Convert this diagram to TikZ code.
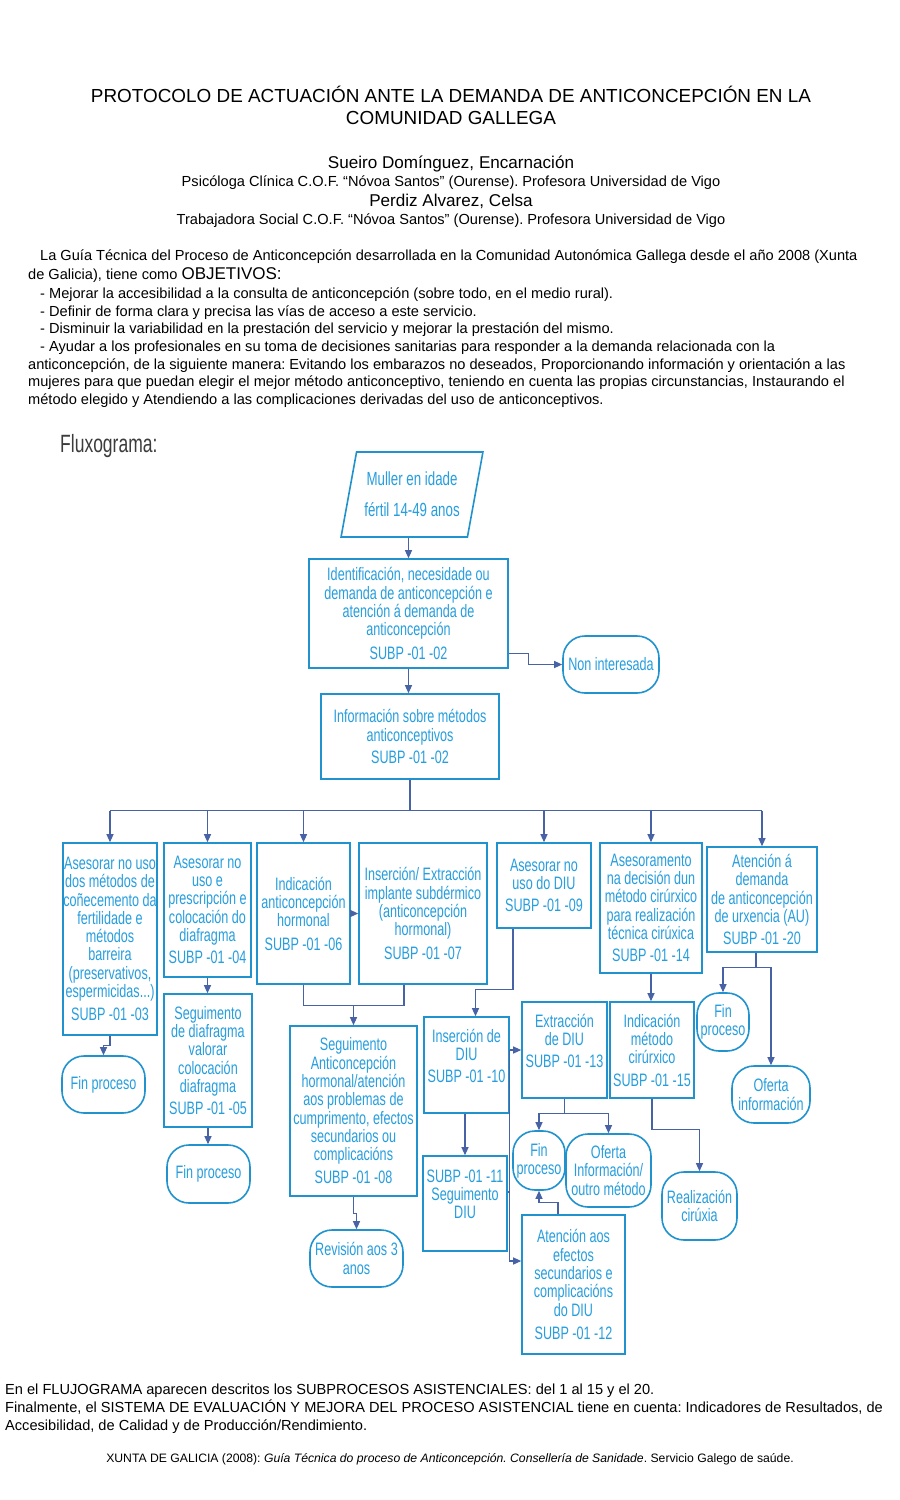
\documentclass[tikz,border=0pt]{standalone}
\usepackage{fontspec}
\setmainfont{Liberation Sans}
\newfontfamily\narrowfont[FakeStretch=0.70]{Liberation Sans}
\usetikzlibrary{arrows.meta,shapes.geometric}
\definecolor{flowtext}{RGB}{38,158,222}
\definecolor{flowline}{RGB}{32,146,206}
\definecolor{flowarrow}{RGB}{72,98,166}
\definecolor{fluxgray}{RGB}{60,60,60}
\frenchspacing

\begin{document}
\begin{tikzpicture}[
        x=1pt, y=-1pt,
        box/.style={
          draw=flowline,
          line width=1.6pt,
          text=flowtext,
          align=center,
          inner xsep=0.5pt, inner ysep=1pt,
          font=\narrowfont\fontsize{18}{18.3}\selectfont
        },
        endbox/.style={box, rounded corners=22pt},
        link/.style={draw=flowarrow, line width=1.1pt, -{Triangle[width=7pt,length=8pt]}},
        wire/.style={draw=flowarrow, line width=1.1pt},
        titleline/.style={font=\fontsize{18.9}{20}\selectfont, anchor=base, inner sep=0pt},
        authorname/.style={font=\fontsize{17.1}{18}\selectfont, anchor=base, inner sep=0pt},
        affil/.style={font=\fontsize{14.6}{15}\selectfont, anchor=base, inner sep=0pt},
        bodyline/.style={font=\fontsize{14.6}{16}\selectfont, anchor=base west, inner sep=0pt}
      ]
      \fill[white] (0,0) rectangle (900,1500);
      \useasboundingbox (0,0) rectangle (900,1500);

      % header
      \node[titleline] (title1) at (451,102)
        {PROTOCOLO DE ACTUACIÓN ANTE LA DEMANDA DE ANTICONCEPCIÓN EN LA};
      \node[titleline] (title2) at (451,124) {COMUNIDAD GALLEGA};
      \node[authorname] (auth1) at (451,168) {Sueiro Domínguez, Encarnación};
      \node[affil] (role1) at (451,186)
        {Psicóloga Clínica C.O.F. “Nóvoa Santos” (Ourense). Profesora Universidad de Vigo};
      \node[authorname] (auth2) at (451,206) {Perdiz Alvarez, Celsa};
      \node[affil] (role2) at (451,224)
        {Trabajadora Social C.O.F. “Nóvoa Santos” (Ourense). Profesora Universidad de Vigo};

      % objetivos
      \node[bodyline] (par1) at (40,260) {La Guía Técnica del Proceso de Anticoncepción desarrollada en la Comunidad Autonómica Gallega desde el año 2008 (Xunta};
      \node[bodyline] (par2) at (28,279) {de Galicia), tiene como {\fontsize{17}{18}\selectfont OBJETIVOS:}};
      \node[bodyline] (par3) at (40,298) {- Mejorar la accesibilidad a la consulta de anticoncepción (sobre todo, en el medio rural).};
      \node[bodyline] (par4) at (40,316) {- Definir de forma clara y precisa las vías de acceso a este servicio.};
      \node[bodyline] (par5) at (40,333) {- Disminuir la variabilidad en la prestación del servicio y mejorar la prestación del mismo.};
      \node[bodyline] (par6) at (40,351) {- Ayudar a los profesionales en su toma de decisiones sanitarias para responder a la demanda relacionada con la};
      \node[bodyline] (par7) at (28,369) {anticoncepción, de la siguiente manera: Evitando los embarazos no deseados, Proporcionando información y orientación a las};
      \node[bodyline] (par8) at (28,386) {mujeres para que puedan elegir el mejor método anticonceptivo, teniendo en cuenta las propias circunstancias, Instaurando el};
      \node[bodyline] (par9) at (28,404) {método elegido y Atendiendo a las complicaciones derivadas del uso de anticonceptivos.};

      \node[font=\narrowfont\fontsize{25}{27}\selectfont, text=fluxgray, anchor=base west, inner sep=0pt]
        (fluxo) at (60,452) {Fluxograma:};

      % flowchart
      \node[box, trapezium, trapezium left angle=74, trapezium right angle=106,
        trapezium stretches=true, minimum width=142pt, minimum height=85pt,
        font=\narrowfont\fontsize{19}{19}\selectfont] (muller) at (412,494.5)
        {Muller en idade\\[12pt]fértil 14-49 anos};
      \node[box, minimum width=199pt, minimum height=109pt] (ident) at (408.5,613.5)
        {Identificación, necesidade ou\\demanda de anticoncepción e\\atención á demanda de\\anticoncepción\\[5pt]SUBP -01 -02};
      \node[endbox, minimum width=96pt, minimum height=57pt] (nonint) at (611,664.5)
        {Non interesada};
      \node[box, minimum width=178pt, minimum height=85pt] (info) at (410,736.5)
        {Información sobre métodos\\anticonceptivos\\[4pt]SUBP -01 -02};

      \node[box, minimum width=94pt, minimum height=192pt] (asesA) at (110,939)
        {Asesorar no uso\\dos métodos de\\coñecemento da\\fertilidade e\\métodos\\barreira\\(preservativos,\\espermicidas...)\\[5pt]SUBP -01 -03};
      \node[box, minimum width=87pt, minimum height=134pt] (asesB) at (207.5,910)
        {Asesorar no\\uso e\\prescripción e\\colocación do\\diafragma\\[4pt]SUBP -01 -04};
      \node[box, minimum width=93pt, minimum height=141pt] (indic) at (303.5,913.5)
        {Indicación\\anticoncepción\\hormonal\\[5pt]SUBP -01 -06};
      \node[box, minimum width=128pt, minimum height=141pt] (impl) at (423,913.5)
        {Inserción/ Extracción\\implante subdérmico\\(anticoncepción\\hormonal)\\[5pt]SUBP -01 -07};
      \node[box, minimum width=94pt, minimum height=85pt] (asesDIU) at (544,885.5)
        {Asesorar no\\uso do DIU\\[4pt]SUBP -01 -09};
      \node[box, minimum width=102pt, minimum height=130pt] (asesCir) at (651,908)
        {Asesoramento\\na decisión dun\\método cirúrxico\\para realización\\técnica cirúxica\\[4pt]SUBP -01 -14};
      \node[box, minimum width=110pt, minimum height=105pt] (urx) at (762,899.5)
        {Atención á\\demanda\\de anticoncepción\\de urxencia (AU)\\[4pt]SUBP -01 -20};

      \node[endbox, minimum width=83pt, minimum height=57pt] (finA) at (103.5,1084.5)
        {Fin proceso};
      \node[box, minimum width=88pt, minimum height=133pt] (segdiaf) at (208,1060.5)
        {Seguimento\\de diafragma\\valorar\\colocación\\diafragma\\[4pt]SUBP -01 -05};
      \node[endbox, minimum width=83pt, minimum height=58pt] (finB) at (208.5,1174)
        {Fin proceso};
      \node[box, minimum width=127pt, minimum height=170pt] (seghorm) at (353.5,1111)
        {Seguimento\\Anticoncepción\\hormonal/atención\\aos problemas de\\cumprimento, efectos\\secundarios ou\\complicacións\\[5pt]SUBP -01 -08};
      \node[endbox, minimum width=93pt, minimum height=57pt] (revis) at (356.5,1258.5)
        {Revisión aos 3\\anos};

      \node[box, minimum width=85pt, minimum height=96pt] (insDIU) at (466.5,1065)
        {Inserción de\\DIU\\[4pt]SUBP -01 -10\\ \mbox{}};
      \node[box, minimum width=85pt, minimum height=96pt] (extDIU) at (564.5,1050)
        {Extracción\\de DIU\\[4pt]SUBP -01 -13\\ \mbox{}};
      \node[box, minimum width=84pt, minimum height=95pt] (segDIU) at (465,1203.5)
        {SUBP -01 -11\\Seguimento\\DIU\\ \mbox{}};
      \node[box, minimum width=103pt, minimum height=139pt] (atenDIU) at (573.5,1284.5)
        {Atención aos\\efectos\\secundarios e\\complicacións\\do DIU\\[5pt]SUBP -01 -12};
      \node[endbox, minimum width=52pt, minimum height=59pt] (finJ) at (539,1160.5)
        {Fin\\proceso};
      \node[endbox, minimum width=85pt, minimum height=73pt] (ofJ) at (608.5,1170.5)
        {Oferta\\Información/\\outro método};
      \node[box, minimum width=84pt, minimum height=96pt] (indCir) at (652,1050)
        {Indicación\\método\\cirúrxico\\[4pt]SUBP -01 -15};
      \node[endbox, minimum width=75pt, minimum height=68pt] (realiz) at (699.5,1206)
        {Realización\\cirúxia};
      \node[endbox, minimum width=52pt, minimum height=58pt] (finG) at (723,1022)
        {Fin\\proceso};
      \node[endbox, minimum width=78pt, minimum height=57pt] (ofG) at (771,1094.5)
        {Oferta\\información};

      \draw[link] (muller.south -| ident.north) -- (ident.north);
      \draw[link] ([yshift=15pt]ident.south east) -- ++(20,0) |- (nonint.west);
      \draw[link] (ident.south) -- (ident.south |- info.north);

      \draw[wire] (info.south) -- ++(0,31) coordinate (bus);
      \draw[wire] (bus -| asesA.north) -- (bus -| urx.north);
      \draw[link] (bus -| asesA.north) -- (asesA.north);
      \draw[link] (bus -| asesB.north) -- (asesB.north);
      \draw[link] (bus -| indic.north) -- (indic.north);
      \draw[link] (bus -| asesDIU.north) -- (asesDIU.north);
      \draw[link] (bus -| asesCir.north) -- (asesCir.north);
      \draw[link] (bus -| urx.north) -- (urx.north);

      \draw[link] (indic.east) -- (impl.west);
      \draw[wire] (indic.south) -- ++(0,21) coordinate (merge) -| ([xshift=-19pt]impl.south);
      \draw[link] (merge -| seghorm.north) -- (seghorm.north);

      \draw[link] (asesA.south) -- ++(0,10) -| (finA.north);
      \draw[link] (asesB.south) -- (asesB.south |- segdiaf.north);
      \draw[link] (segdiaf.south) -- (segdiaf.south |- finB.north);
      \draw[link] (seghorm.south) -- ++(0,17) -| (revis.north);

      \draw[link] ([xshift=-31pt]asesDIU.south) -- ++(0,61) -| ([xshift=9pt]insDIU.north);
      \draw[link] (insDIU.east |- extDIU.west) -- (extDIU.west);
      \coordinate (kin) at ([yshift=23.5pt]atenDIU.west);
      \draw[link] (insDIU.east |- extDIU.west) |- (kin);
      \coordinate (ltick) at ([yshift=11.5pt]segDIU.east);
      \draw[wire] (ltick) -- (ltick -| insDIU.east);
      \draw[link] (insDIU.south -| segDIU.north) -- (segDIU.north);
      \draw[wire] (extDIU.south) -- ++(0,15) coordinate (jsplit);
      \draw[link] (jsplit) -| (finJ.north);
      \draw[link] (jsplit) -| (ofJ.north);
      \draw[link] ([xshift=-15.5pt]atenDIU.north) -- ++(0,-12) -| (finJ.south);

      \draw[link] (asesCir.south) -- (asesCir.south |- indCir.north);
      \draw[link] (indCir.south) -- ++(0,31) -| (realiz.north);
      \draw[wire] ([xshift=-6pt]urx.south) -- ++(0,15) coordinate (gsplit);
      \draw[link] (gsplit) -| (finG.north);
      \draw[link] (gsplit) -| (ofG.north);

      % footer
      \node[bodyline] (foot1) at (5,1394) {En el FLUJOGRAMA aparecen descritos los SUBPROCESOS ASISTENCIALES: del 1 al 15 y el 20.};
      \node[bodyline] (foot2) at (5,1412) {Finalmente, el SISTEMA DE EVALUACIÓN Y MEJORA DEL PROCESO ASISTENCIAL tiene en cuenta: Indicadores de Resultados, de};
      \node[bodyline] (foot3) at (5,1430) {Accesibilidad, de Calidad y de Producción/Rendimiento.};
      \node[font=\fontsize{12.2}{14}\selectfont, anchor=base, inner sep=0pt] (credit) at (450,1462)
        {XUNTA DE GALICIA (2008): \textit{Guía Técnica do proceso de Anticoncepción. Consellería de Sanidade}. Servicio Galego de saúde.};
    \end{tikzpicture}
\end{document}
